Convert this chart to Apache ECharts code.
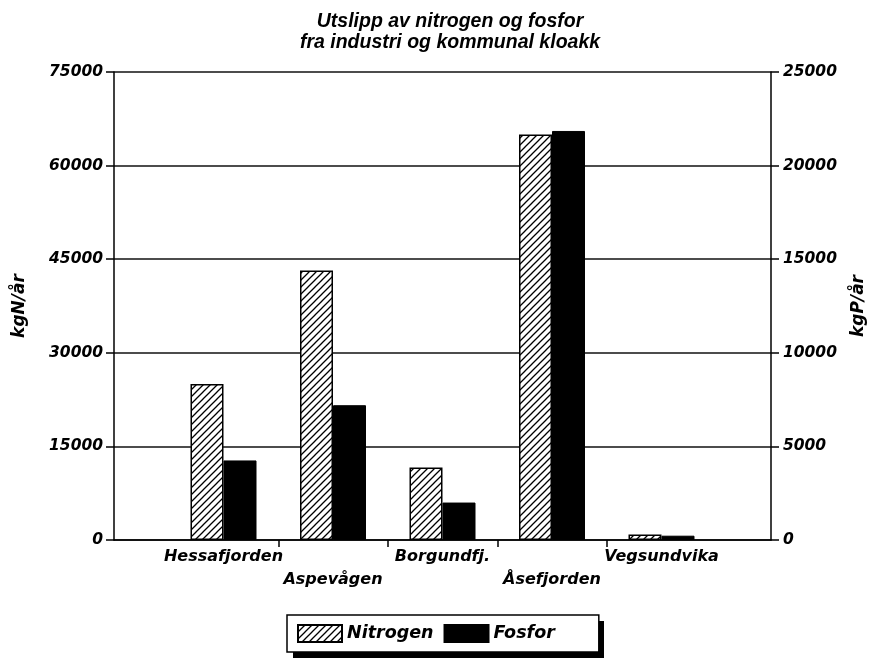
<!DOCTYPE html>
<html>
<head>
<meta charset="utf-8">
<script src="https://cdn.jsdelivr.net/npm/echarts@6/dist/echarts.min.js"></script>
<style>
  html, body { margin: 0; background: #fff; }
  #chart { width: 876px; height: 660px; }
</style>
</head>
<body>
<div id="chart"></div>
<script>
// verdier lest av figuren
const categories = ["Hessafjorden", "Aspevågen", "Borgundfj.", "Åsefjorden", "Vegsundvika"];
const nitrogen = [25000, 43200, 11600, 65000, 900]; // kgN/år, venstre akse
const fosfor = [4250, 7200, 2000, 21850, 230];      // kgP/år, høyre akse
const leftTicks = { min: 0, max: 75000, interval: 15000 };
const rightTicks = { min: 0, max: 25000, interval: 5000 };
const boundaryTicks = [1.5, 2.5, 3.5, 4.5]; // tick marks between the places

const FONT = "DejaVu Sans";

// empty slot at each end so the places sit at 1..5 of 0..6
const xData = ["", ...categories, ""];
const pad = (arr) => ["-", ...arr, "-"];

// diagonal hatch for Nitrogen
function hatch() {
  const c = document.createElement("canvas");
  c.width = 7;
  c.height = 7;
  const g = c.getContext("2d");
  g.fillStyle = "#fff";
  g.fillRect(0, 0, 7, 7);
  g.strokeStyle = "#000";
  g.lineWidth = 1.3;
  g.beginPath();
  g.moveTo(-1, 8); g.lineTo(8, -1);
  g.moveTo(-1, 1); g.lineTo(1, -1);
  g.moveTo(6, 8); g.lineTo(8, 6);
  g.stroke();
  return c;
}

const labelStyle = {
  fontFamily: FONT,
  fontWeight: "bold",
  fontStyle: "italic",
  color: "#000",
};

const chart = echarts.init(document.getElementById("chart"));

const option = {
  animation: false,
  backgroundColor: "#fff",
  title: {
    text: "Utslipp av nitrogen og fosfor\nfra industri og kommunal kloakk",
    left: 450,
    top: 11,
    padding: 0,
    textAlign: "center",
    textStyle: {
      fontFamily: "Liberation Sans",
      fontWeight: "bold",
      fontStyle: "italic",
      fontSize: 19.5,
      lineHeight: 21,
      color: "#000",
    },
  },
  // drop shadow behind the legend box
  graphic: [
    {
      type: "rect",
      z: 0,
      shape: { x: 293, y: 621, width: 311, height: 37 },
      style: { fill: "#000" },
    },
  ],
  legend: {
    left: 287,
    top: 615,
    padding: [9, 44, 9, 10],
    itemWidth: 44,
    itemHeight: 17,
    itemGap: 10,
    icon: "rect",
    backgroundColor: "#fff",
    borderColor: "#000",
    borderWidth: 1.5,
    borderRadius: 0,
    textStyle: Object.assign({}, labelStyle, { fontSize: 17.5 }),
    data: ["Nitrogen", "Fosfor"],
  },
  grid: {
    left: 114,
    right: 105,
    top: 72,
    bottom: 120,
  },
  xAxis: [
    {
      type: "category",
      data: xData,
      boundaryGap: false,
      axisLine: { lineStyle: { color: "#000", width: 1.5 } },
      axisTick: { show: false },
      axisLabel: Object.assign({}, labelStyle, {
        fontSize: 16,
        lineHeight: 23,
        margin: 5,
        interval: 0,
        formatter: (v, i) => (i % 2 === 0 && v ? "\n" + v : v),
      }),
      splitLine: { show: false },
    },
    {
      // only carries the tick marks between places
      type: "value",
      position: "bottom",
      min: 0,
      max: 6,
      axisLine: { show: false },
      axisLabel: { show: false },
      splitLine: { show: false },
      axisTick: {
        show: true,
        customValues: boundaryTicks,
        length: 7,
        lineStyle: { color: "#000", width: 1.5 },
      },
    },
  ],
  yAxis: [
    {
      type: "value",
      min: leftTicks.min,
      max: leftTicks.max,
      interval: leftTicks.interval,
      name: "kgN/år",
      nameLocation: "middle",
      nameRotate: 90,
      nameGap: 86,
      nameTextStyle: Object.assign({}, labelStyle, { fontSize: 17 }),
      axisLine: { show: true, lineStyle: { color: "#000", width: 1.5 } },
      axisTick: { show: true, length: 8, lineStyle: { color: "#000", width: 1.5 } },
      axisLabel: Object.assign({}, labelStyle, {
        fontSize: 15.5,
        margin: 11,
        formatter: (v) => String(v),
      }),
      splitLine: { show: true, lineStyle: { color: "#111", width: 1.5 } },
    },
    {
      type: "value",
      min: rightTicks.min,
      max: rightTicks.max,
      interval: rightTicks.interval,
      name: "kgP/år",
      nameLocation: "middle",
      nameRotate: 90,
      nameGap: 79,
      nameTextStyle: Object.assign({}, labelStyle, { fontSize: 17 }),
      axisLine: { show: true, lineStyle: { color: "#000", width: 1.5 } },
      axisTick: { show: true, length: 8, lineStyle: { color: "#000", width: 1.5 } },
      axisLabel: Object.assign({}, labelStyle, {
        fontSize: 15.5,
        margin: 12,
        formatter: (v) => String(v),
      }),
      splitLine: { show: false },
    },
  ],
  series: [
    {
      name: "Nitrogen",
      type: "bar",
      xAxisIndex: 0,
      yAxisIndex: 0,
      barWidth: 33,
      barGap: "0%",
      data: pad(nitrogen),
      itemStyle: {
        color: { image: hatch(), repeat: "repeat" },
        borderColor: "#000",
        borderWidth: 1.5,
      },
    },
    {
      name: "Fosfor",
      type: "bar",
      xAxisIndex: 0,
      yAxisIndex: 1,
      barWidth: 33,
      barGap: "0%",
      data: pad(fosfor),
      itemStyle: {
        color: "#000",
        borderColor: "#000",
        borderWidth: 1,
      },
    },
  ],
};

chart.setOption(option);
</script>
</body>
</html>
